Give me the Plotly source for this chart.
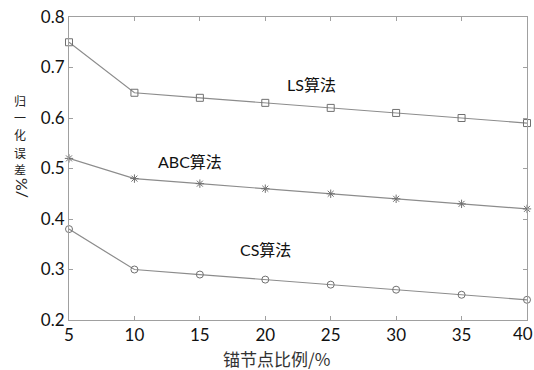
import plotly.graph_objects as go

x_vals = [5, 10, 15, 20, 25, 30, 35, 40]
ls_vals = [0.75, 0.65, 0.64, 0.63, 0.62, 0.61, 0.60, 0.59]
abc_vals = [0.52, 0.48, 0.47, 0.46, 0.45, 0.44, 0.43, 0.42]
cs_vals = [0.38, 0.30, 0.29, 0.28, 0.27, 0.26, 0.25, 0.24]
series_names = ["LS算法", "ABC算法", "CS算法"]
y_ticks = [0.2, 0.3, 0.4, 0.5, 0.6, 0.7, 0.8]
x_tick_labels = ["5", "10", "15", "20", "25", "30", "35", "40"]
x_title = "锚节点比例/%"
y_title_chars = ["归", "一", "化", "误", "差"]
y_title_unit = "/%"

line_color = "#8c8c8c"
font_fam = "Lato, 'Noto Sans CJK SC', sans-serif"
cjk_fam = "'Noto Sans CJK SC', sans-serif"

fig = go.Figure()
for vals, sym, name in [(ls_vals, "square-open", series_names[0]),
                        (abc_vals, "asterisk-open", series_names[1]),
                        (cs_vals, "circle-open", series_names[2])]:
    fig.add_trace(go.Scatter(
        x=x_vals, y=vals, mode="lines+markers", name=name,
        line=dict(color=line_color, width=1.2),
        marker=dict(symbol=sym, size=7, color="#707070",
                    line=dict(color="#707070", width=1)),
        showlegend=False, cliponaxis=False))

# series labels (data coordinates)
for (lx, ly, txt) in [(23.5, 0.667, series_names[0]),
                      (14.25, 0.513, series_names[1]),
                      (20.05, 0.339, series_names[2])]:
    fig.add_annotation(x=lx, y=ly, text=txt, showarrow=False,
                       font=dict(size=16, color="#111", family=font_fam))

# vertical y-axis title: upright CJK characters + rotated unit
for i, ch in enumerate(y_title_chars):
    fig.add_annotation(xref="paper", yref="paper", x=0, y=1, xshift=-49,
                       yshift=-(83 + 17.4 * i), text=ch, showarrow=False,
                       font=dict(size=12, color="#222", family=cjk_fam),
                       xanchor="center", yanchor="middle", borderpad=0)
fig.add_annotation(xref="paper", yref="paper", x=0, y=1, xshift=-49,
                   yshift=-171, text=y_title_unit, textangle=-90, showarrow=False,
                   font=dict(size=16, color="#222", family=font_fam),
                   xanchor="center", yanchor="middle", borderpad=0)

# x-axis title
fig.add_annotation(xref="paper", yref="paper", x=0.454, y=0, yshift=-38,
                   text=x_title, showarrow=False,
                   font=dict(size=17, color="#333", family=cjk_fam),
                   xanchor="center", yanchor="middle")

# last x tick label, pulled inside the figure edge as in the reference
fig.add_annotation(xref="paper", yref="paper", x=1, y=0, xshift=7, yshift=-13,
                   text=x_tick_labels[-1], showarrow=False,
                   font=dict(size=17, color="#111", family=font_fam),
                   xanchor="right", yanchor="middle", borderpad=0)

axis_common = dict(showline=True, linecolor="#a0a0a0", linewidth=1, mirror="ticks",
                   ticks="inside", ticklen=4, tickcolor="#a0a0a0",
                   showgrid=False, zeroline=False, ticklabeloverflow="allow",
                   tickfont=dict(size=17, color="#111", family=font_fam))

fig.update_xaxes(range=[5, 40], tickvals=x_vals,
                 ticktext=x_tick_labels[:-1] + [""], **axis_common)
fig.update_yaxes(range=[0.2, 0.8], tickvals=y_ticks, tickformat=".1f", **axis_common)

fig.update_layout(width=534, height=370, plot_bgcolor="white", paper_bgcolor="white",
                  margin=dict(l=69, r=7, t=17, b=50, autoexpand=False))

fig.write_html("out.html", config={"displayModeBar": False},
               post_script="document.body.style.margin='0';")
